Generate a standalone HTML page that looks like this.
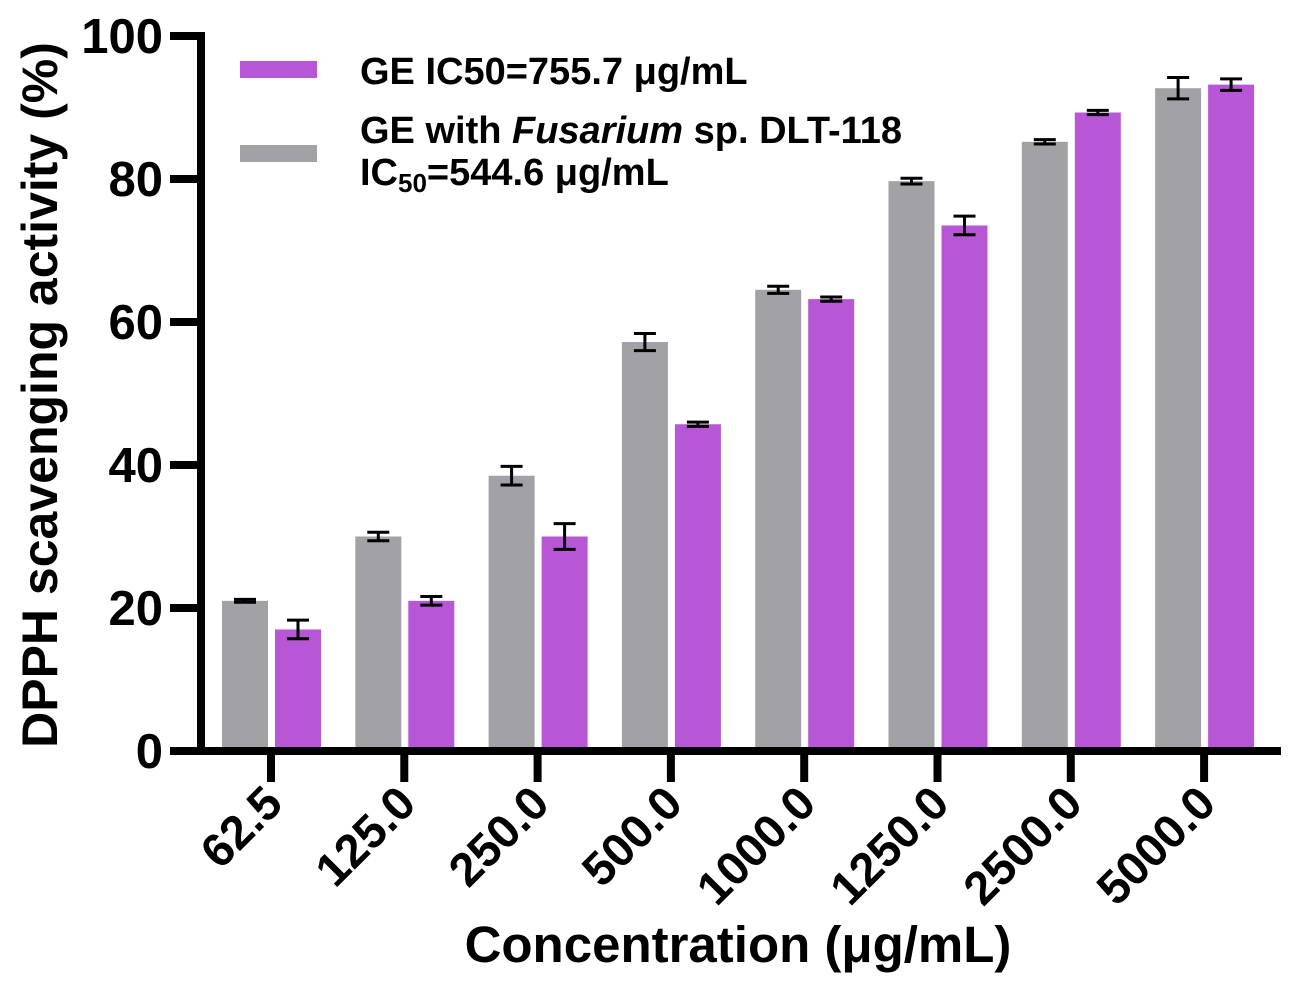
<!DOCTYPE html>
<html><head><meta charset="utf-8"><style>
body{margin:0;background:#fff}
svg text{font-family:"Liberation Sans",sans-serif;font-weight:bold;fill:#000}
</style></head><body>
<svg id="c" width="1293" height="993">
<g id="bars"></g><g id="axes"></g>
<rect x="240" y="61" width="77" height="17" fill="#b757d6"/>
<text x="360" y="84" font-size="38">GE IC50=755.7 μg/mL</text>
<rect x="240" y="145" width="77" height="17" fill="#a2a1a6"/>
<text x="360" y="143" font-size="38">GE with <tspan font-style="italic">Fusarium</tspan> sp. DLT-118</text>
<text x="360" y="185" font-size="38">IC<tspan font-size="26" dy="7">50</tspan><tspan dy="-7">=544.6 μg/mL</tspan></text>
<text transform="translate(57,395) rotate(-90)" text-anchor="middle" font-size="50">DPPH scavenging activity (%)</text>
<text x="738" y="962" text-anchor="middle" font-size="51">Concentration (μg/mL)</text>
</svg>
<script>
const categories=["62.5","125.0","250.0","500.0","1000.0","1250.0","2500.0","5000.0"];
const grayVals=[21,30,38.5,57.2,64.5,79.7,85.2,92.7];
const grayErr=[0.2,0.6,1.3,1.2,0.5,0.4,0.3,1.5];
const purpleVals=[17,21,30,45.7,63.2,73.5,89.3,93.2];
const purpleErr=[1.3,0.6,1.8,0.3,0.3,1.3,0.3,0.8];
const yTicks=[0,20,40,60,80,100];
const NS="http://www.w3.org/2000/svg";
const y=v=>751-v*7.15;
const x=i=>271+i*133.3;
function mk(t,a,p){const e=document.createElementNS(NS,t);for(const k in a)e.setAttribute(k,a[k]);p.appendChild(e);return e;}
const bars=document.getElementById('bars'),axes=document.getElementById('axes');
function bar(cx,v,err,col,name){
  let r=mk('rect',{x:cx-23,y:y(v),width:46,height:751-y(v),fill:col},bars);
  
  
  let g=mk('g',{stroke:'#000','stroke-width':3},bars);
  
  
  mk('line',{x1:cx,x2:cx,y1:y(v+err),y2:y(v-err)},g);
  mk('line',{x1:cx-11,x2:cx+11,y1:y(v+err),y2:y(v+err)},g);
  mk('line',{x1:cx-11,x2:cx+11,y1:y(v-err),y2:y(v-err)},g);
}
categories.forEach((c,i)=>{
  bar(x(i)-26,grayVals[i],grayErr[i],'#a2a1a6','bar-gray-'+c);
  bar(x(i)+27,purpleVals[i],purpleErr[i],'#b757d6','bar-purple-'+c);
  let t=mk('line',{x1:x(i),x2:x(i),y1:751,y2:782,stroke:'#000','stroke-width':8},axes);
  
  
  let l=mk('text',{transform:`translate(${x(i)+14},${806}) rotate(-45)`,'text-anchor':'end','font-size':47},axes);
  l.textContent=c;
  
  
});
yTicks.forEach(v=>{
  let t=mk('line',{x1:170,x2:201,y1:y(v),y2:y(v),stroke:'#000','stroke-width':8},axes);
  
  
  let l=mk('text',{x:163,y:y(v)+17,'text-anchor':'end','font-size':49},axes);
  l.textContent=v;
  
  
});
let ya=mk('line',{x1:201,x2:201,y1:32,y2:755,stroke:'#000','stroke-width':8},axes);


let xa=mk('line',{x1:170,x2:1281,y1:751,y2:751,stroke:'#000','stroke-width':8},axes);


</script>
</body></html>
